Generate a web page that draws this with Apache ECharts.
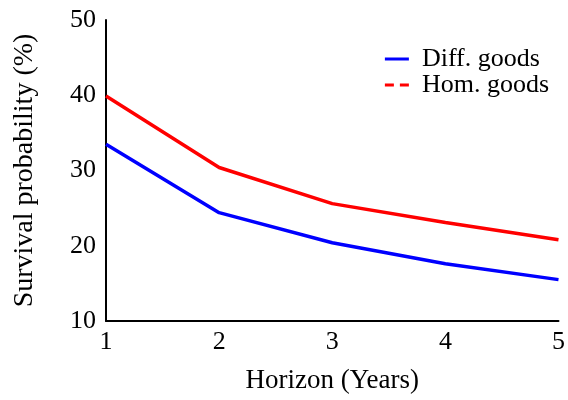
<!DOCTYPE html>
<html>
<head>
<meta charset="utf-8">
<script src="https://cdn.jsdelivr.net/npm/echarts@6/dist/echarts.min.js"></script>
<style>html,body{margin:0;padding:0;background:#fff}#c{width:568px;height:400px}</style>
</head>
<body>
<div id="c"></div>
<script>
var horizons = [1, 2, 3, 4, 5];
var diffGoods = [33.5, 24.4, 20.4, 17.6, 15.5];
var homGoods = [39.9, 30.4, 25.6, 23.1, 20.8];
var seriesNames = ['Diff. goods', 'Hom. goods'];
var xTitle = 'Horizon (Years)';
var yTitle = 'Survival probability (%)';

function pairs(xs, ys) { return xs.map(function (x, i) { return [x, ys[i]]; }); }

var FONT = 'Liberation Serif';
var chart = echarts.init(document.getElementById('c'), null, { renderer: 'canvas' });
chart.setOption({
  backgroundColor: '#fff',
  animation: false,
  textStyle: { fontFamily: FONT, color: '#000' },
  grid: { left: 106, right: 9, top: 20, bottom: 79 },
  legend: {
    right: 14, top: 41, orient: 'vertical', itemGap: 0,
    itemWidth: 24, itemHeight: 10,
    textStyle: { fontFamily: FONT, fontSize: 26, lineHeight: 22, color: '#000', padding: [0, 0, 0, 8] },
    data: [
      { name: seriesNames[0], icon: 'path://M0,0 L24,0 L24,3 L0,3 Z', itemStyle: { color: '#0000ff' } },
      { name: seriesNames[1], icon: 'path://M0,0 L9,0 L9,3 L0,3 Z M15,0 L24,0 L24,3 L15,3 Z', itemStyle: { color: '#ff0000' } }
    ]
  },
  xAxis: {
    type: 'value', min: 1, max: 5, interval: 1,
    name: xTitle, nameLocation: 'middle', nameGap: 46,
    nameTextStyle: { fontFamily: FONT, fontSize: 27, color: '#000' },
    axisLine: { lineStyle: { color: '#000', width: 2 } },
    axisTick: { show: false },
    splitLine: { show: false },
    axisLabel: { fontFamily: FONT, fontSize: 26, color: '#000', margin: 8 }
  },
  yAxis: {
    type: 'value', min: 10, max: 50, interval: 10,
    name: yTitle, nameLocation: 'middle', nameGap: 67, nameRotate: 90,
    nameTextStyle: { fontFamily: FONT, fontSize: 28, color: '#000' },
    axisLine: { show: true, lineStyle: { color: '#000', width: 2 } },
    axisTick: { show: false },
    splitLine: { show: false },
    axisLabel: { fontFamily: FONT, fontSize: 26, color: '#000', margin: 10 }
  },
  series: [
    { name: seriesNames[0], type: 'line', data: pairs(horizons, diffGoods), symbol: 'none',
      lineStyle: { color: '#0000ff', width: 3.5 }, itemStyle: { color: '#0000ff' } },
    { name: seriesNames[1], type: 'line', data: pairs(horizons, homGoods), symbol: 'none',
      lineStyle: { color: '#ff0000', width: 3.5 }, itemStyle: { color: '#ff0000' } }
  ]
});
</script>
</body>
</html>
